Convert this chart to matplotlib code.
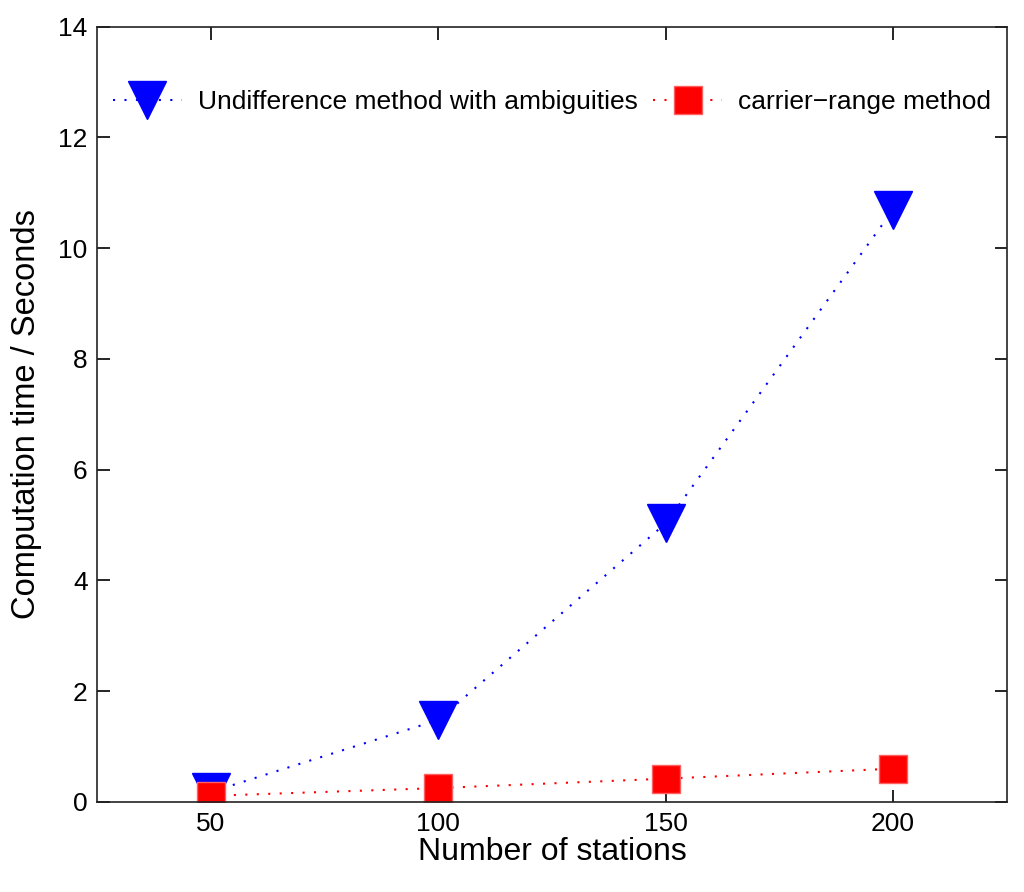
import matplotlib
matplotlib.use("Agg")
import matplotlib.pyplot as plt

plt.rcParams["font.family"] = ["Liberation Sans", "DejaVu Sans"]

# Data
stations = [50, 100, 150, 200]
undiff_time = [0.18, 1.48, 5.03, 10.69]
carrier_time = [0.11, 0.25, 0.42, 0.60]

fig = plt.figure(figsize=(10.24, 8.92), dpi=100)
ax = fig.add_axes([0.095, 0.101, 0.888, 0.869])

dots = (0, (1, 4.5))
ax.plot(stations, undiff_time, linestyle=dots, color="blue", marker="v",
        markersize=27, markerfacecolor="blue", markeredgecolor="blue",
        linewidth=1.5, label="Undifference method with ambiguities")
ax.plot(stations, carrier_time, linestyle=dots, color="red", marker="s",
        markersize=20, markerfacecolor="red", markeredgecolor="#ff6060",
        linewidth=1.5, label="carrier\u2212range method")

ax.set_xlim(25, 225)
ax.set_ylim(0, 14)
ax.set_xticks(stations)
ax.set_yticks(range(0, 15, 2))
ax.tick_params(direction="in", top=True, right=True, length=9, width=1.2,
               labelsize=19, pad=7)
for s in ax.spines.values():
    s.set_linewidth(1.2)
    s.set_color("#222222")

ax.set_xlabel("Number of stations", fontsize=23, labelpad=1)
ax.set_ylabel("Computation time / Seconds", fontsize=23.5, labelpad=12)

ax.legend(loc="center", ncol=2, frameon=False, fontsize=19,
          bbox_to_anchor=(0.5, 0.903), handlelength=2.6, columnspacing=0.6,
          handletextpad=0.6)

fig.savefig("out.png", dpi=100)
